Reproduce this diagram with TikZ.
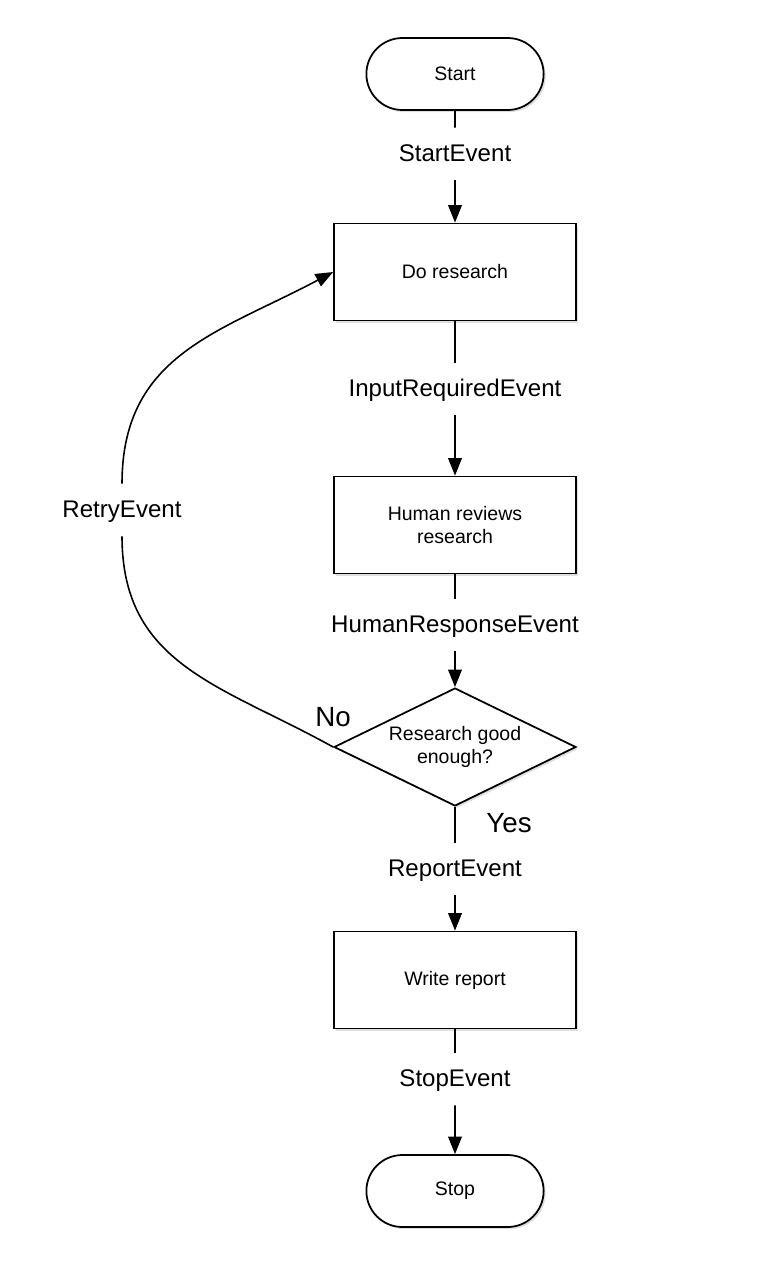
\documentclass[tikz,border=0pt]{standalone}
\usepackage{fontspec}
\setmainfont{Liberation Sans}
\usetikzlibrary{shapes.geometric, shapes.misc, arrows.meta, shadows}

\begin{document}
\begin{tikzpicture}[x=0.02cm, y=0.02cm, line width=0.9pt, >={Triangle[length=10pt, width=7.8pt]}]
    \tikzstyle{box}=[draw, line width=1pt, fill=white, minimum width=4.84cm, minimum height=1.94cm, align=center, font=\fontsize{11.1}{13.5}\selectfont, drop shadow={shadow xshift=1.2pt, shadow yshift=-1.2pt, opacity=0.25}]
    \tikzstyle{terminal}=[box, rounded rectangle, minimum width=3.78cm, minimum height=1.44cm]
    \tikzstyle{decision}=[box, diamond, aspect=2.05, inner sep=0pt, minimum width=4.84cm, minimum height=2.36cm]
    \tikzstyle{event}=[font=\fontsize{13.7}{16}\selectfont, text height=11pt, text depth=2pt, inner ysep=8pt, inner xsep=4pt]
    \tikzstyle{answer}=[font=\fontsize{15.8}{18}\selectfont]

    \useasboundingbox (0,0) rectangle (764,-1280);

    % Steps
    \node[terminal] (start) at (455,-74) {Start};
    \node[box] (research) at (455,-272) {Do research};
    \node[box] (review) at (455,-525) {Human reviews\\research};
    \node[decision] (check) at (455,-747) {Research good\\enough?};
    \node[box] (report) at (455,-980) {Write report};
    \node[terminal] (stop) at (455,-1191) {Stop};

    % Events
    \node[event] (e-start) at (455,-154) {StartEvent};
    \node[event] (e-input) at (455,-389) {InputRequiredEvent};
    \node[event] (e-human) at (455,-625) {HumanResponseEvent};
    \node[event] (e-report) at (455,-869) {ReportEvent};
    \node[event] (e-stop) at (455,-1079) {StopEvent};
    \node[event] (e-retry) at (122,-510) {RetryEvent};

    % Answers
    \node[answer] (no) at (333,-717) {No};
    \node[answer] (yes) at (509,-823) {Yes};

    % Connect steps through events
    \foreach \source/\ev/\dest in {start/e-start/research, research/e-input/review, review/e-human/check, check/e-report/report, report/e-stop/stop} {
        \draw (\source) -- (\ev);
        \draw[->] (\ev) -- (\dest);
    }

    % Retry loop
    \draw (check.west) to[out=151, in=-90, looseness=1.1] (e-retry.south);
    \draw[->] (e-retry.north) to[out=90, in=208, looseness=1.1] (research.west);
\end{tikzpicture}
\end{document}
